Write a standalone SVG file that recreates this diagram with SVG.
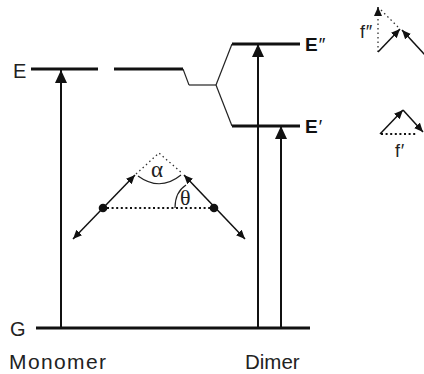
<svg xmlns="http://www.w3.org/2000/svg" width="424" height="374" viewBox="0 0 424 374">
<defs>
<marker id="big" markerUnits="userSpaceOnUse" viewBox="0 0 13 12" refX="13" refY="6" markerWidth="13" markerHeight="12" orient="auto"><path d="M0,0 L13,6 L0,12 z" fill="#111"/></marker>
<marker id="sm" markerUnits="userSpaceOnUse" viewBox="0 0 9 8" refX="9" refY="4" markerWidth="9" markerHeight="8" orient="auto-start-reverse"><path d="M0,0 L9,4 L0,8 z" fill="#111"/></marker>
<style>
.lvl{stroke:#111;stroke-width:3;fill:none}
.thin{stroke:#222;stroke-width:1.2;fill:none}
.tr{stroke:#111;stroke-width:2;fill:none}
.vec{stroke:#111;stroke-width:1.5;fill:none}
.dot{stroke:#111;stroke-width:2;stroke-dasharray:2 2.6;fill:none}
.fdot{stroke:#333;stroke-width:1.3;stroke-dasharray:1.5 3;fill:none}
.t{font-family:"Liberation Sans",Arial,sans-serif;fill:#222}
.b{font-family:"Liberation Sans",Arial,sans-serif;font-weight:bold;fill:#111}
.p{font-style:italic;font-weight:normal}
.g{font-family:"Liberation Serif","Times New Roman",serif;fill:#222}
</style>
</defs>
<g id="ground-level"><line class="lvl" x1="36" y1="328" x2="310" y2="328"/><text class="t" x="10" y="336" font-size="20">G</text></g>
<g id="monomer-level"><line class="lvl" x1="31" y1="69" x2="98" y2="69"/><line class="lvl" x1="114" y1="69" x2="183" y2="69"/><text class="t" x="13" y="78" font-size="20">E</text></g>
<g id="dimer-upper"><line class="lvl" x1="232" y1="44" x2="300" y2="44"/><text class="b" x="305" y="51" font-size="19">E<tspan class="p">″</tspan></text></g>
<g id="dimer-lower"><line class="lvl" x1="232" y1="126" x2="300" y2="126"/><text class="b" x="305" y="133" font-size="19">E<tspan class="p">′</tspan></text></g>
<g id="labels"><text class="t" x="9" y="369" font-size="21" textLength="97" lengthAdjust="spacing">Monomer</text><text class="t" x="245" y="369" font-size="20.5">Dimer</text></g>
<g id="molecule">
<circle cx="103" cy="208" r="4.3" fill="#111"/><circle cx="214" cy="208" r="4.3" fill="#111"/>
<line class="dot" x1="107" y1="208" x2="210" y2="208"/>
<polyline class="fdot" points="136,174 159,153 183,174"/>
<path class="thin" d="M138,176 Q160,192 181,175"/>
<path class="thin" d="M175,208 Q175,192 186,185"/>
<text class="g" x="151" y="177" font-size="23">α</text>
<text class="g" x="180" y="205" font-size="22">θ</text>
</g>
<g id="f2-diagram">
<line class="fdot" x1="378" y1="52" x2="378" y2="16"/>
<line class="fdot" x1="381" y1="10" x2="399" y2="28"/>
<text class="t" x="360" y="38" font-size="18">f<tspan class="p">″</tspan></text>
</g>
<g id="f1-diagram">
<line class="dot" x1="381" y1="134" x2="416" y2="134"/>
<text class="t" x="395" y="157" font-size="18">f<tspan class="p">′</tspan></text>
</g>
<g id="connectors">
<line class="thin" x1="183" y1="69" x2="189" y2="85"/>
<line class="thin" x1="189" y1="85" x2="216" y2="85"/>
<line class="thin" x1="216" y1="85" x2="232" y2="44"/>
<line class="thin" x1="216" y1="85" x2="232" y2="126"/>
<line class="tr" x1="61" y1="328" x2="61" y2="70" marker-end="url(#big)"/>
<line class="tr" x1="258" y1="328" x2="258" y2="44" marker-end="url(#big)"/>
<line class="tr" x1="281" y1="328" x2="281" y2="126" marker-end="url(#big)"/>
<line class="vec" x1="73" y1="239" x2="135" y2="175" marker-start="url(#sm)" marker-end="url(#sm)"/>
<line class="vec" x1="245" y1="239" x2="184" y2="175" marker-start="url(#sm)" marker-end="url(#sm)"/>
<line class="vec" x1="378" y1="16" x2="378" y2="7" marker-end="url(#sm)"/>
<line class="vec" x1="378" y1="52" x2="400" y2="29" marker-end="url(#sm)"/>
<line class="vec" x1="426" y1="56" x2="402" y2="30" marker-end="url(#sm)"/>
<line class="vec" x1="380" y1="134" x2="403" y2="110" marker-end="url(#sm)"/>
<line class="vec" x1="403" y1="110" x2="423" y2="132" marker-end="url(#sm)"/>
</g>
</svg>
